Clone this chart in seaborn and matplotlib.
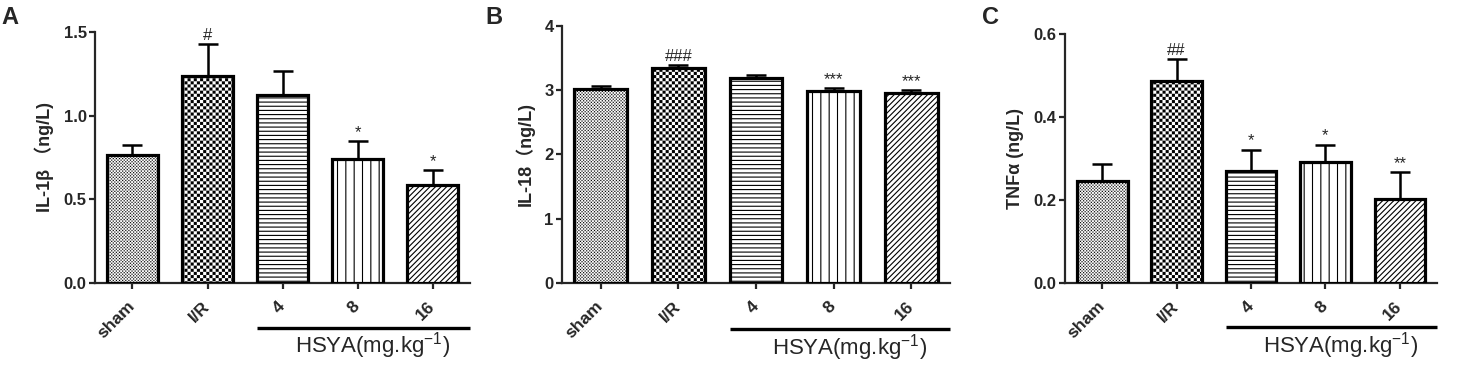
import numpy as np
import pandas as pd
import matplotlib
matplotlib.use("Agg")
import matplotlib.pyplot as plt
import matplotlib.hatch as mhatch
from matplotlib.path import Path
import seaborn as sns

# ---------------- data ----------------
categories = ["sham", "I/R", "4", "8", "16"]

il1b = [0.763, 1.235, 1.125, 0.741, 0.588]
il1b_err = [0.064, 0.193, 0.144, 0.106, 0.085]
il1b_sig = ["", "#", "", "*", "*"]

il18 = [3.02, 3.35, 3.19, 2.99, 2.96]
il18_err = [0.04, 0.04, 0.05, 0.04, 0.04]
il18_sig = ["", "###", "", "***", "***"]

tnf = [0.245, 0.488, 0.269, 0.292, 0.202]
tnf_err = [0.043, 0.052, 0.052, 0.041, 0.065]
tnf_sig = ["", "##", "*", "*", "**"]

panel_letters = ["A", "B", "C"]
ylabels = ["IL-1β （ng/L)", "IL-18（ng/L)", "TNFα (ng/L)"]
yticks = [[0.0, 0.5, 1.0, 1.5], [0, 1, 2, 3, 4], [0.0, 0.2, 0.4, 0.6]]
ytick_fmt = ["{:.1f}", "{:.0f}", "{:.1f}"]
group_label = "HSYA(mg.kg$^{-1}$)"


# ------------- checkerboard hatch (replaces 'O' large circles) -------------
class CheckerHatch(mhatch.Shapes):
    filled = True
    size = 1.0

    def __init__(self, hatch, density):
        n = hatch.count("O")
        self.num_rows = int(round(n * density * 4 / 3))
        if self.num_rows % 2:
            self.num_rows += 1
        shrink = 0.13 if n > 1 else 0.02
        verts = []
        codes = []
        for i in range(4):
            for j in range(4):
                if (i + j) % 2 == 0:
                    x0, x1 = i / 4 - 0.5 + shrink / 4, (i + 1) / 4 - 0.5 - shrink / 4
                    y0, y1 = j / 4 - 0.5 + shrink / 4, (j + 1) / 4 - 0.5 - shrink / 4
                    verts += [[x0, y0], [x1, y0], [x1, y1], [x0, y1], [x0, y0]]
                    codes += [Path.MOVETO, Path.LINETO, Path.LINETO,
                              Path.LINETO, Path.CLOSEPOLY]
        self.shape_vertices = np.array(verts, dtype=float)
        self.shape_codes = np.array(codes, dtype=Path.code_type)
        super().__init__(hatch, density)


mhatch._hatch_types = [CheckerHatch if t is mhatch.LargeCircles else t
                       for t in mhatch._hatch_types]

hatches = ["OO", "O", "----", "||", "//////"]

# ---------------- style ----------------
sns.set_style("ticks")
plt.rcParams["font.family"] = ["Liberation Sans", "Noto Sans CJK SC"]
plt.rcParams["mathtext.fontset"] = "custom"
plt.rcParams["mathtext.rm"] = "Liberation Sans"
plt.rcParams["mathtext.it"] = "Liberation Sans:italic"
plt.rcParams["mathtext.bf"] = "Liberation Sans:bold"
plt.rcParams["hatch.linewidth"] = 0.8
plt.rcParams["axes.linewidth"] = 1.6

fig = plt.figure(figsize=(14.57, 3.72), dpi=100)

positions = [
    [0.0652, 0.2392, 0.2574, 0.675],
    [0.3857, 0.2392, 0.2663, 0.691],
    [0.7310, 0.2392, 0.2553, 0.669],
]
letter_x = [0.001, 0.333, 0.674]

datasets = [(il1b, il1b_err, il1b_sig), (il18, il18_err, il18_sig),
            (tnf, tnf_err, tnf_sig)]

for k, (vals, errs, sigs) in enumerate(datasets):
    ax = fig.add_axes(positions[k])
    df = pd.DataFrame({"group": categories, "value": vals})
    sns.barplot(data=df, x="group", y="value", order=categories,
                errorbar=None, color="white", edgecolor="black",
                linewidth=2.3, width=0.68, ax=ax, zorder=3)
    for patch, h in zip(ax.patches, hatches):
        patch.set_facecolor("white")
        patch.set_hatch(h)
        if hasattr(patch, "set_hatch_linewidth"):
            patch.set_hatch_linewidth(0.05 if "O" in h else 0.8)
    ax.errorbar(np.arange(len(categories)), vals,
                yerr=[np.zeros(len(vals)), errs], fmt="none",
                ecolor="black", elinewidth=1.8, capsize=7.5, capthick=1.8,
                zorder=2)
    for i, (v, e, s) in enumerate(zip(vals, errs, sigs)):
        if s:
            ax.annotate(s, xy=(i, v + e), xytext=(0, 1),
                        textcoords="offset points", ha="center",
                        va="bottom", fontsize=12)

    ax.set_xlim(-0.5, 4.5)
    ax.set_ylim(yticks[k][0], yticks[k][-1])
    ax.set_yticks(yticks[k])
    ax.set_yticklabels([ytick_fmt[k].format(t) for t in yticks[k]],
                       fontsize=12, fontweight="bold")
    ax.set_xticks(range(len(categories)))
    ax.set_xticklabels(categories, rotation=45, ha="right", va="center",
                       rotation_mode="anchor", fontsize=12.5,
                       fontweight="bold")
    ax.tick_params(axis="x", length=4, width=1.6, pad=11)
    ax.tick_params(axis="y", length=4, width=1.6, pad=2)
    ax.set_xlabel("")
    ax.set_ylabel(ylabels[k], fontsize=13, fontweight="bold", labelpad=7)
    sns.despine(ax=ax)
    ax.spines["left"].set_linewidth(1.6)
    ax.spines["bottom"].set_linewidth(1.6)

    trans = ax.get_xaxis_transform()
    ax.plot([1.66, 4.5], [-0.178, -0.178], color="black", lw=2.4,
            transform=trans, clip_on=False, solid_capstyle="butt")
    ax.text(3.2, -0.25, group_label, transform=trans, ha="center",
            va="center", fontsize=16)

    fig.text(letter_x[k], 0.985, panel_letters[k], fontsize=17,
             fontweight="bold", ha="left", va="top")

fig.savefig("out.png", dpi=100)
